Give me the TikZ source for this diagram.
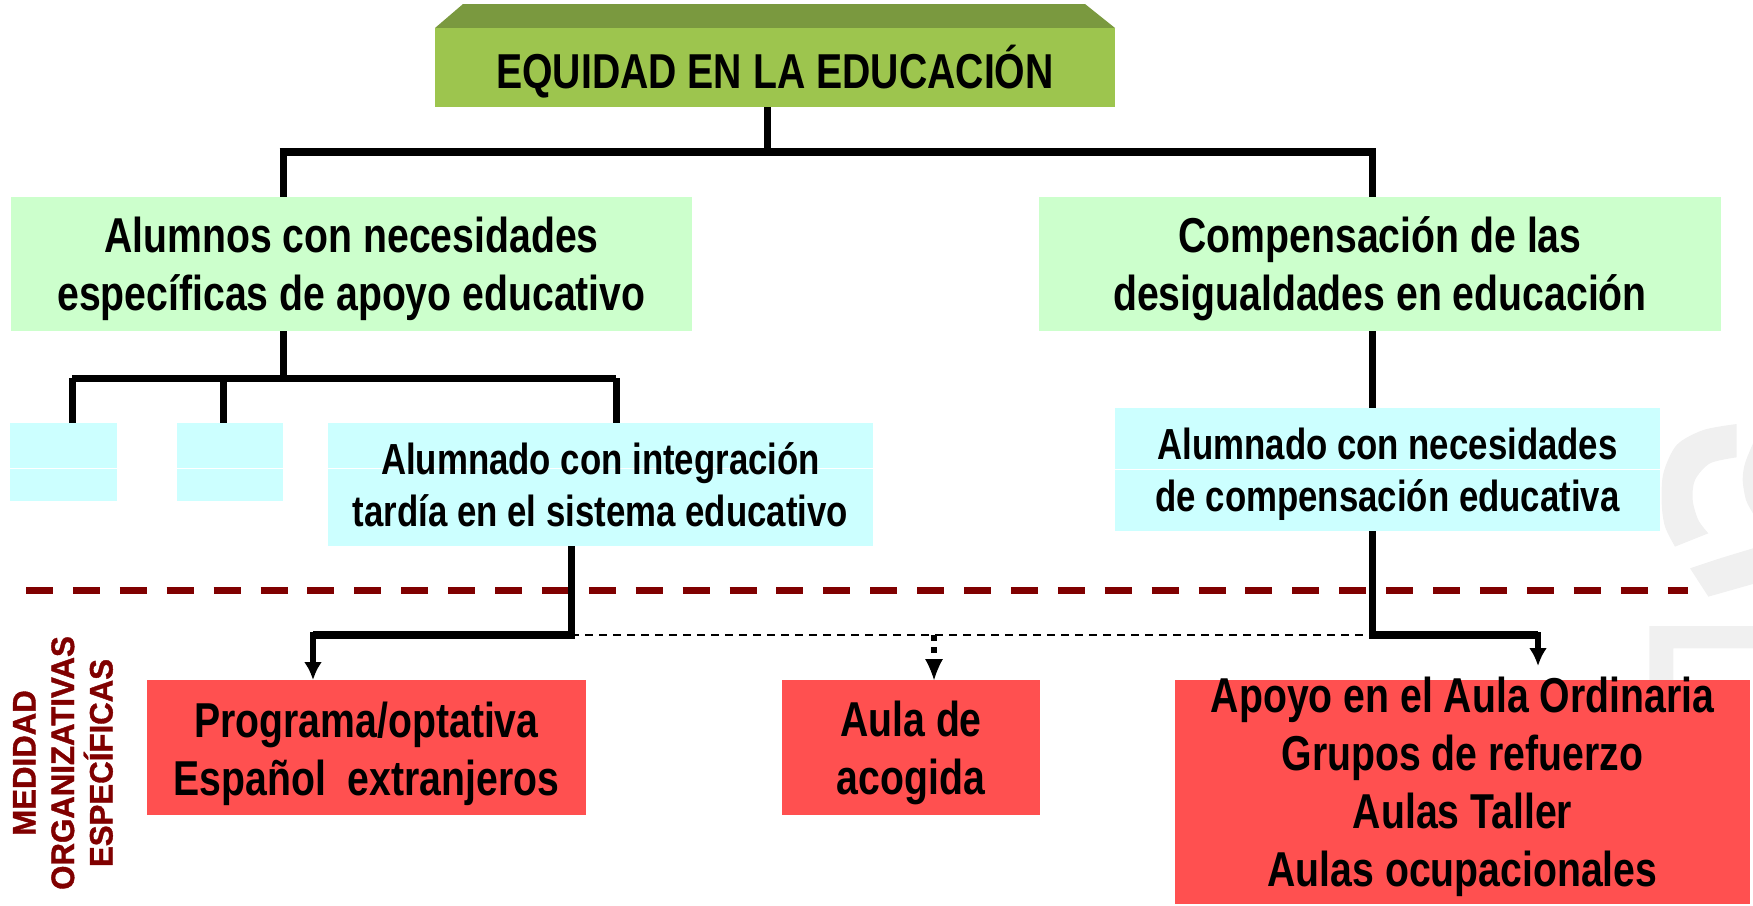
\documentclass[tikz,border=0pt]{standalone}
\usepackage{fontspec}
\setmainfont{Liberation Sans}
\newfontfamily\cond[FakeStretch=0.8]{Liberation Sans}
\newfontfamily\sidef[UprightFont=* Bold,FakeBold=1.2,FakeStretch=0.96]{Liberation Sans}
\usetikzlibrary{arrows.meta,calc}
\definecolor{gfront}{HTML}{9DC54E}
\definecolor{gtop}{HTML}{7A993F}
\definecolor{lgreen}{HTML}{CCFFCC}
\definecolor{lcyan}{HTML}{CCFFFF}
\definecolor{lred}{HTML}{FF5050}
\definecolor{dred}{HTML}{800000}
\definecolor{wm}{HTML}{F0F0F0}
\tikzset{
 x=1pt,y=-1pt,
 boxbase/.style n args={3}{anchor=north west,inner sep=0pt,outer sep=0pt,minimum width=#1,minimum height=#2,fill=#3},
 big/.style={align=center,inner sep=0pt,font=\cond\bfseries\fontsize{49}{58}\selectfont},
 mid/.style={align=center,inner sep=0pt,font=\cond\bfseries\fontsize{43.5}{52}\selectfont},
 wire/.style={line width=7pt},
 heavy/.style={line width=7.5pt},
 wirethin/.style={line width=1.6pt,dash pattern=on 8pt off 6pt},
 tipwire/.style={line width=6pt,-{Latex[length=18pt,width=18pt]}},
 dotwire/.style={line width=6pt,dash pattern=on 6pt off 6pt},
 divider/.style={line width=7pt,dred,dash pattern=on 27pt off 19.9pt},
 seam/.style={white,line width=1pt},
 rot/.style={rotate=90,font=\sidef\fontsize{32.5}{38.5}\selectfont,text=dred,align=center,inner sep=0pt},
}
\begin{document}
\begin{tikzpicture}
\useasboundingbox (0,0) rectangle (1753,905);
% watermark
\begin{scope}[shift={(1620,380)},x=0.33333pt,y=-0.33333pt]
\fill[wm] plot[smooth] coordinates {(350,132) (250,150) (170,195) (130,280) (125,370) (135,440) (165,500)}
  -- plot[smooth] coordinates {(265,460) (235,420) (218,360) (225,300) (270,250) (350,232)} -- cycle;
\fill[wm] plot[smooth] coordinates {(210,565) (300,535) (399,505)} -- (399,612) -- (265,650) -- cycle;
\fill[wm] plot[smooth] coordinates {(399,190) (375,250) (368,300) (378,360) (399,400)} -- cycle;
\fill[wm] (88,738) -- (399,738) -- (399,805) -- (160,805) -- (160,900) -- (88,900) -- cycle;
\end{scope}
% title
\fill[gtop] (435,28) -- (463,4) -- (1085,4) -- (1115,28) -- cycle;
\node[boxbase={680pt}{79pt}{gfront}] (title) at (435,28) {};
\node[big,yshift=-4.5pt] (titlet) at (title.center) {EQUIDAD EN LA EDUCACIÓN};
% second level
\node[boxbase={681pt}{134pt}{lgreen}] (alum) at (11,197) {};
\node[big,yshift=-5pt] (alumt) at (alum.center) {Alumnos con necesidades\\específicas de apoyo educativo};
\node[boxbase={682pt}{134pt}{lgreen}] (comp) at (1039,197) {};
\node[big,yshift=-5pt] (compt) at (comp.center) {Compensación de las\\desigualdades en educación};
% third level
\node[boxbase={107pt}{78pt}{lcyan}] (c1) at (10,423) {};
\node[boxbase={106pt}{78pt}{lcyan}] (c2) at (177,423) {};
\node[boxbase={545pt}{123pt}{lcyan}] (c3) at (328,423) {};
\node[boxbase={545pt}{123pt}{lcyan}] (c4) at (1115,408) {};
\draw[seam] (c1.west |- 0,468) -- (c1.east |- 0,468);
\draw[seam] (c2.west |- 0,468) -- (c2.east |- 0,468);
\draw[seam] (c3.west |- 0,468) -- (c3.east |- 0,468);
\draw[seam] (c4.west |- 0,469) -- (c4.east |- 0,469);
\node[mid] (c3t) at (c3.center) {Alumnado con integración\\tardía en el sistema educativo};
\node[mid,yshift=-4.5pt] (c4t) at (c4.center) {Alumnado con necesidades\\de compensación educativa};
% red boxes
\node[boxbase={439pt}{135pt}{lred}] (r1) at (147,680) {};
\node[big,yshift=-6.5pt] (r1t) at (r1.center) {Programa/optativa\\Español\ \ extranjeros};
\node[boxbase={258pt}{135pt}{lred}] (r2) at (782,680) {};
\node[big,yshift=-5.5pt] (r2t) at (r2.center) {Aula de\\acogida};
\node[boxbase={575pt}{224pt}{lred}] (r3) at (1175,680) {};
\node[big,yshift=5.5pt] (r3t) at (r3.center) {Apoyo en el Aula Ordinaria\\Grupos de refuerzo\\Aulas Taller\\Aulas ocupacionales};
% side label
\node[rot] (side) at (63,763) {MEDIDAD\\ORGANIZATIVAS\\ESPECÍFICAS};
% divider
\coordinate (dl) at (26,590);
\coordinate (dr) at (1688,590);
\draw[divider] (dl) -- (dr);
% junctions
\coordinate (j0) at (767,152);
\coordinate (jl) at (283,152);
\coordinate (jr) at (1372,152);
\coordinate (k0) at (283,378);
\coordinate (k1) at (72,378);
\coordinate (k2) at (223,378);
\coordinate (k3) at (616,378);
\coordinate (m0) at (571,635);
\coordinate (m1) at (313,635);
\coordinate (n0) at (1372,635);
\coordinate (n1) at (1538,635);
\coordinate (n2) at (1538,666);
\coordinate (mm) at (934,635);
% connectors
\draw[wire] (title.south -| j0) -- (j0);
\draw[heavy] ($(jl)+(-3.5,0)$) -- ($(jr)+(3.5,0)$);
\draw[wire] (jl) -- (alum.north -| jl);
\draw[wire] (jr) -- (comp.north -| jr);
\draw[wire] (alum.south -| k0) -- (k0);
\draw[wire,line cap=square] (k1) -- (k3);
\draw[wire] (k1) -- (c1.north -| k1);
\draw[wire] (k2) -- (c2.north -| k2);
\draw[wire] (k3) -- (c3.north -| k3);
\draw[wire] (comp.south -| jr) -- (c4.north -| jr);
\draw[wire] (c3.south -| m0) -- ($(m0)+(0,3.5)$);
\draw[wire] (c4.south -| n0) -- ($(n0)+(0,3.5)$);
\draw[wirethin] (m0) -- (n0);
\draw[heavy] (m0) -- (m1);
\draw[heavy] (n0) -- (n1);
\draw[tipwire] ($(m1)+(0,-3)$) -- (r1.north -| m1);
\draw[tipwire] ($(n1)+(0,-3)$) -- (n2);
\draw[dotwire] (mm) -- ($(mm)+(0,24)$);
\draw[-{Latex[length=21pt,width=18pt]},line width=1pt] ($(mm)+(0,24)$) -- (r2.north -| mm);
\end{tikzpicture}
\end{document}
